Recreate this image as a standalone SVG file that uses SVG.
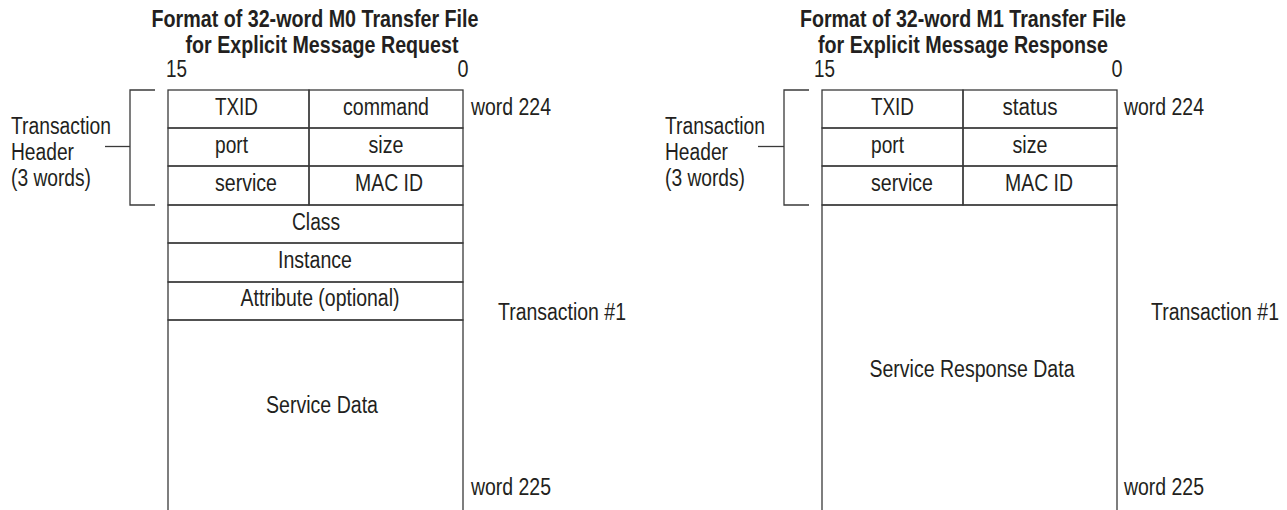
<svg xmlns="http://www.w3.org/2000/svg" width="1287" height="510" viewBox="0 0 1287 510">
<style>
text { font-family: "Liberation Sans", Arial, sans-serif; font-size: 23px; fill: #231f20; }
.title { font-weight: bold; font-size: 24px; text-anchor: middle; }
.c { text-anchor: middle; }
.cell { fill: none; stroke: #3a3a3a; stroke-width: 1.3; }
.ln { fill: none; stroke: #3a3a3a; stroke-width: 1.3; }
</style>
<rect width="1287" height="510" fill="#ffffff"/>

<g id="request-panel">
  <g id="req-title">
    <text class="title" x="315" y="27" textLength="327" lengthAdjust="spacingAndGlyphs">Format of 32-word M0 Transfer File</text>
    <text class="title" x="322" y="53" textLength="273" lengthAdjust="spacingAndGlyphs">for Explicit Message Request</text>
  </g>
  <g id="req-bits">
    <text x="166" y="77" textLength="21" lengthAdjust="spacingAndGlyphs">15</text>
    <text class="c" x="463" y="77" textLength="11" lengthAdjust="spacingAndGlyphs">0</text>
  </g>
  <g id="req-header-label">
    <text x="11" y="134" textLength="100" lengthAdjust="spacingAndGlyphs">Transaction</text>
    <text x="11" y="160" textLength="63" lengthAdjust="spacingAndGlyphs">Header</text>
    <text x="11" y="186" textLength="80" lengthAdjust="spacingAndGlyphs">(3 words)</text>
  </g>
  <g id="req-txid"><rect class="cell" x="168" y="90" width="141" height="38"/><text x="215" y="115" textLength="43" lengthAdjust="spacingAndGlyphs">TXID</text></g>
  <g id="req-command"><rect class="cell" x="309" y="90" width="154" height="38"/><text class="c" x="386" y="115" textLength="86" lengthAdjust="spacingAndGlyphs">command</text></g>
  <g id="req-port"><rect class="cell" x="168" y="128" width="141" height="38"/><text x="215" y="153" textLength="33" lengthAdjust="spacingAndGlyphs">port</text></g>
  <g id="req-size"><rect class="cell" x="309" y="128" width="154" height="38"/><text class="c" x="386" y="153" textLength="35" lengthAdjust="spacingAndGlyphs">size</text></g>
  <g id="req-service"><rect class="cell" x="168" y="166" width="141" height="39"/><text x="215" y="191" textLength="62" lengthAdjust="spacingAndGlyphs">service</text></g>
  <g id="req-macid"><rect class="cell" x="309" y="166" width="154" height="39"/><text class="c" x="389" y="191" textLength="68" lengthAdjust="spacingAndGlyphs">MAC ID</text></g>
  <g id="req-class"><rect class="cell" x="168" y="205" width="295" height="38"/><text class="c" x="316" y="230" textLength="48" lengthAdjust="spacingAndGlyphs">Class</text></g>
  <g id="req-instance"><rect class="cell" x="168" y="243" width="295" height="39"/><text class="c" x="315" y="268" textLength="74" lengthAdjust="spacingAndGlyphs">Instance</text></g>
  <g id="req-attribute"><rect class="cell" x="168" y="282" width="295" height="38"/><text class="c" x="320" y="306" textLength="159" lengthAdjust="spacingAndGlyphs">Attribute (optional)</text></g>
  <g id="req-service-data"><rect class="cell" x="168" y="320" width="295" height="200"/><text class="c" x="322" y="413" textLength="112" lengthAdjust="spacingAndGlyphs">Service Data</text></g>
  <g id="req-right-labels">
    <text x="471" y="115" textLength="80" lengthAdjust="spacingAndGlyphs">word 224</text>
    <text x="498" y="320" textLength="128" lengthAdjust="spacingAndGlyphs">Transaction #1</text>
    <text x="471" y="495" textLength="80" lengthAdjust="spacingAndGlyphs">word 225</text>
  </g>
</g>

<g id="response-panel">
  <g id="resp-title">
    <text class="title" x="963" y="27" textLength="326" lengthAdjust="spacingAndGlyphs">Format of 32-word M1 Transfer File</text>
    <text class="title" x="963" y="53" textLength="290" lengthAdjust="spacingAndGlyphs">for Explicit Message Response</text>
  </g>
  <g id="resp-bits">
    <text x="814" y="77" textLength="21" lengthAdjust="spacingAndGlyphs">15</text>
    <text class="c" x="1117" y="77" textLength="11" lengthAdjust="spacingAndGlyphs">0</text>
  </g>
  <g id="resp-header-label">
    <text x="665" y="134" textLength="100" lengthAdjust="spacingAndGlyphs">Transaction</text>
    <text x="665" y="160" textLength="63" lengthAdjust="spacingAndGlyphs">Header</text>
    <text x="665" y="186" textLength="80" lengthAdjust="spacingAndGlyphs">(3 words)</text>
  </g>
  <g id="resp-txid"><rect class="cell" x="822" y="90" width="141" height="38"/><text x="871" y="115" textLength="43" lengthAdjust="spacingAndGlyphs">TXID</text></g>
  <g id="resp-status"><rect class="cell" x="963" y="90" width="154" height="38"/><text class="c" x="1030" y="115" textLength="55" lengthAdjust="spacingAndGlyphs">status</text></g>
  <g id="resp-port"><rect class="cell" x="822" y="128" width="141" height="38"/><text x="871" y="153" textLength="33" lengthAdjust="spacingAndGlyphs">port</text></g>
  <g id="resp-size"><rect class="cell" x="963" y="128" width="154" height="38"/><text class="c" x="1030" y="153" textLength="35" lengthAdjust="spacingAndGlyphs">size</text></g>
  <g id="resp-service"><rect class="cell" x="822" y="166" width="141" height="39"/><text x="871" y="191" textLength="62" lengthAdjust="spacingAndGlyphs">service</text></g>
  <g id="resp-macid"><rect class="cell" x="963" y="166" width="154" height="39"/><text class="c" x="1039" y="191" textLength="68" lengthAdjust="spacingAndGlyphs">MAC ID</text></g>
  <g id="resp-data"><rect class="cell" x="822" y="205" width="295" height="315"/><text class="c" x="972" y="377" textLength="205" lengthAdjust="spacingAndGlyphs">Service Response Data</text></g>
  <g id="resp-right-labels">
    <text x="1124" y="115" textLength="80" lengthAdjust="spacingAndGlyphs">word 224</text>
    <text x="1151" y="320" textLength="128" lengthAdjust="spacingAndGlyphs">Transaction #1</text>
    <text x="1124" y="495" textLength="80" lengthAdjust="spacingAndGlyphs">word 225</text>
  </g>
</g>

<g id="connectors">
  <path class="ln" d="M155,90 H130 V205 H155"/>
  <path class="ln" d="M105,146.5 H130"/>
  <path class="ln" d="M809,90 H784 V205 H809"/>
  <path class="ln" d="M758,146.5 H784"/>
</g>
</svg>
